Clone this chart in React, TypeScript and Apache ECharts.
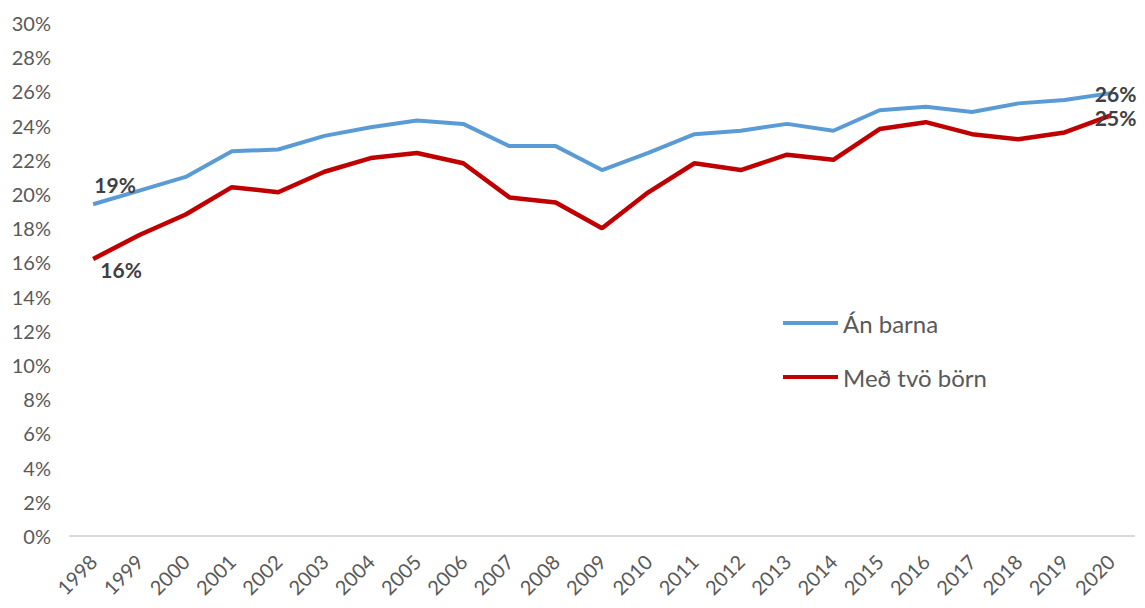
import React, { useEffect, useRef } from "react";
import * as echarts from "echarts";

const years = ["1998","1999","2000","2001","2002","2003","2004","2005","2006","2007","2008","2009","2010","2011","2012","2013","2014","2015","2016","2017","2018","2019","2020"];
const anBarna = [19.4,20.2,21.0,22.5,22.6,23.4,23.9,24.3,24.1,22.8,22.8,21.4,22.4,23.5,23.7,24.1,23.7,24.9,25.1,24.8,25.3,25.5,25.9];
const medTvoBorn = [16.2,17.6,18.8,20.4,20.1,21.3,22.1,22.4,21.8,19.8,19.5,18.0,20.1,21.8,21.4,22.3,22.0,23.8,24.2,23.5,23.2,23.6,24.6];
const yTicks = [0, 30, 2];
const seriesNames = ["Án barna", "Með tvö börn"];

const FONT = "Lato, 'Open Sans', sans-serif";

function buildData(vals: number[], first: any, last: any) {
  return vals.map((v, i) => {
    if (i === 0) return { value: v, label: { show: true, ...first } };
    if (i === vals.length - 1) return { value: v, label: { show: true, ...last } };
    return v;
  });
}

export default function App() {
  const ref = useRef<HTMLDivElement>(null);
  useEffect(() => {
    if (!ref.current) return;
    const chart = echarts.init(ref.current, undefined, { renderer: "svg" });
    const lbl = {
      formatter: (p: any) => Math.round(p.value) + "%",
      color: "#404040",
      fontFamily: FONT,
      fontSize: 21,
      fontWeight: "bold",
    };
    chart.setOption({
      animation: false,
      backgroundColor: "#ffffff",
      grid: { left: 70, right: 11, top: 23, bottom: 72, containLabel: false },
      legend: {
        orient: "vertical",
        left: 778,
        top: 306,
        itemGap: 30,
        itemWidth: 55,
        itemHeight: 4,
        icon: "rect",
        textStyle: { color: "#595959", fontSize: 24, fontFamily: FONT },
        data: seriesNames,
      },
      xAxis: {
        type: "category",
        data: years,
        boundaryGap: true,
        axisLine: { show: true, lineStyle: { color: "#d9d9d9", width: 2 } },
        axisTick: { show: false },
        axisLabel: {
          rotate: 45,
          color: "#595959",
          fontSize: 20,
          fontFamily: FONT,
          margin: 22,
          interval: 0,
        },
      },
      yAxis: {
        type: "value",
        min: yTicks[0],
        max: yTicks[1],
        interval: yTicks[2],
        axisLine: { show: false },
        axisTick: { show: false },
        splitLine: { show: false },
        axisLabel: {
          formatter: "{value}%",
          color: "#595959",
          fontSize: 20,
          fontFamily: FONT,
          margin: 19,
        },
      },
      series: [
        {
          name: seriesNames[0],
          type: "line",
          data: buildData(
            anBarna,
            { ...lbl, position: "top", distance: 9, offset: [22, 0] },
            { ...lbl, position: "right", distance: 5, offset: [-21, 0] }
          ),
          showSymbol: true,
          symbol: "circle",
          symbolSize: 0.01,
          lineStyle: { color: "#5B9BD5", width: 4 },
          itemStyle: { color: "#5B9BD5" },
          z: 2,
        },
        {
          name: seriesNames[1],
          type: "line",
          data: buildData(
            medTvoBorn,
            { ...lbl, position: "bottom", distance: 0, offset: [28, 0] },
            { ...lbl, position: "right", distance: 5, offset: [-21, 2] }
          ),
          showSymbol: true,
          symbol: "circle",
          symbolSize: 0.01,
          lineStyle: { color: "#C00000", width: 4.5 },
          itemStyle: { color: "#C00000" },
          z: 3,
        },
      ],
    });
    return () => chart.dispose();
  }, []);
  return <div ref={ref} style={{ width: 1145, height: 608, position: "absolute", left: 0, top: 0 }} />;
}
